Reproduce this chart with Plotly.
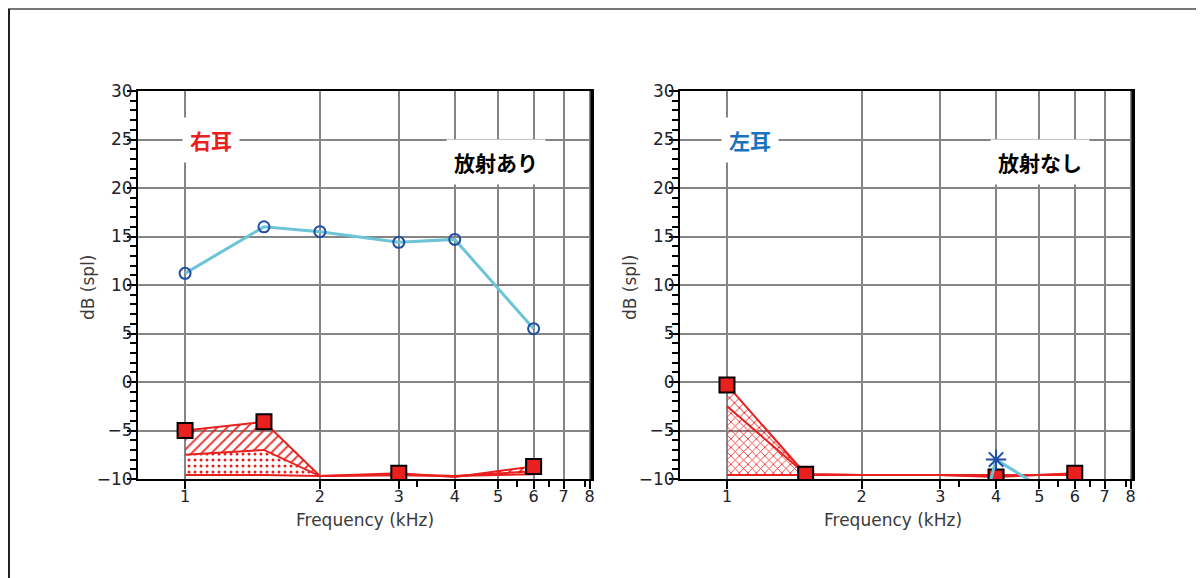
import math
import plotly.graph_objects as go

# ---------------- data ----------------
freq = [1, 1.5, 2, 3, 4, 6]
x_ticks = [1, 2, 3, 4, 5, 6, 7, 8]
x_minor = [3.3, 5.5, 6.5, 7.8]
y_ticks = [-10, -5, 0, 5, 10, 15, 20, 25, 30]

# right ear (右耳)
R_dp = [11.2, 16.0, 15.5, 14.4, 14.7, 5.5]
R_nf = [-5.0, -4.1, -9.7, -9.4, -9.8, -8.7]
R_mid = [-7.5, -7.0, -9.7, -9.6, -9.7, -9.2]
R_low = [-9.6, -9.6, -9.7, -9.6, -9.7, -9.5]
R_sq_show = [1, 1, 0, 1, 0, 1]

# left ear (左耳)
L_dp = [None, None, None, -30.0, -8.0, -13.0]
L_nf = [-0.3, -9.5, -9.6, -9.6, -9.8, -9.4]
L_mid = [-2.5, -9.5, -9.6, -9.6, -9.7, -9.5]
L_low = [-9.6, -9.6, -9.6, -9.6, -9.6, -9.6]
L_sq_show = [1, 1, 0, 0, 1, 1]
L_star_show = [0, 0, 0, 0, 1, 0]

titles = ["右耳", "左耳"]
notes = ["放射あり", "放射なし"]

# ---------------- styling ----------------
OFF = 8                     # page offset of the figure inside the browser
W, H = 1204 - OFF, 578 - OFF
RED = "#e8211f"
CYAN = "#6cc4d6"
BLUE = "#1f4ea3"
GRID = "#858585"
TXT = "#22222c"


def px_x(p):
    return (p - OFF) / W


def px_y(p):
    return (H - (p - OFF)) / H


fig = go.Figure()

panels = [
    dict(xa="x", ya="y", dom=[px_x(138), px_x(592)],
         dp=R_dp, nf=R_nf, mid=R_mid, low=R_low, sq=R_sq_show,
         p1=".", p2="/", dp_marker="circle-open", dp_show=[1] * 6,
         title_col="#e8211f", tx=211, nx=496, lab_x=365, ylab_x=88),
    dict(xa="x2", ya="y2", dom=[px_x(680), px_x(1133)],
         dp=L_dp, nf=L_nf, mid=L_mid, low=L_low, sq=L_sq_show,
         p1="x", p2="x", dp_marker="asterisk-open", dp_show=L_star_show,
         title_col="#1a74bd", tx=750, nx=1040, lab_x=893, ylab_x=630),
]

for i, pnl in enumerate(panels):
    xa, ya = pnl["xa"], pnl["ya"]
    fig.add_trace(go.Scatter(x=freq, y=pnl["low"], mode="lines", xaxis=xa, yaxis=ya,
                             line=dict(color=RED, width=2), showlegend=False, hoverinfo="skip"))
    fig.add_trace(go.Scatter(x=freq, y=pnl["mid"], mode="lines", xaxis=xa, yaxis=ya,
                             line=dict(color=RED, width=2), fill="tonexty",
                             fillcolor="rgba(255,255,255,0)",
                             fillpattern=dict(shape=pnl["p1"], fgcolor=RED, bgcolor="rgba(255,255,255,0)",
                                              fgopacity=1, size=6, solidity=0.2 if i == 0 else 0.25),
                             showlegend=False, hoverinfo="skip"))
    fig.add_trace(go.Scatter(x=freq, y=pnl["nf"], mode="lines", xaxis=xa, yaxis=ya,
                             line=dict(color=RED, width=2), fill="tonexty",
                             fillcolor="rgba(255,255,255,0)",
                             fillpattern=dict(shape=pnl["p2"], fgcolor=RED, bgcolor="rgba(255,255,255,0)",
                                              fgopacity=1, size=7, solidity=0.25),
                             showlegend=False, hoverinfo="skip"))
    fig.add_trace(go.Scatter(x=freq, y=pnl["nf"], mode="markers", xaxis=xa, yaxis=ya,
                             marker=dict(symbol="square", color=RED, opacity=1,
                                         size=[15 * s for s in pnl["sq"]],
                                         line=dict(color="black", width=2)),
                             showlegend=False, hoverinfo="skip"))
    fig.add_trace(go.Scatter(x=freq, y=pnl["dp"], mode="lines", xaxis=xa, yaxis=ya,
                             line=dict(color=CYAN, width=3), connectgaps=False,
                             showlegend=False, hoverinfo="skip"))
    fig.add_trace(go.Scatter(x=freq, y=pnl["dp"], mode="markers", xaxis=xa, yaxis=ya,
                             marker=dict(symbol=pnl["dp_marker"], color=BLUE, opacity=1,
                                         size=[(11 if i == 0 else 17) * s for s in pnl["dp_show"]],
                                         line=dict(color=BLUE, width=2)),
                             showlegend=False, hoverinfo="skip"))

xr = [math.log10(0.785), math.log10(8.1)]
axis_common_x = dict(type="log", range=xr, tickmode="array", tickvals=x_ticks,
                     ticktext=[str(v) for v in x_ticks], showgrid=True, gridcolor=GRID,
                     gridwidth=2, showline=True, linecolor="black", linewidth=2, mirror=True,
                     ticks="outside", ticklen=8, tickwidth=2, tickcolor="black",
                     ticklabelstandoff=-6,
                     tickfont=dict(family="DejaVu Sans", size=16, color=TXT),
                     minor=dict(tickmode="array", tickvals=x_minor, ticks="outside",
                                ticklen=6, tickwidth=2, tickcolor="black", showgrid=False),
                     zeroline=False, fixedrange=True, automargin=False)
axis_common_y = dict(range=[-10, 30], tickmode="array", tickvals=y_ticks,
                     showgrid=True, gridcolor=GRID, gridwidth=2, showline=True,
                     linecolor="black", linewidth=2, mirror=True,
                     ticks="outside", ticklen=9, tickwidth=2, tickcolor="black",
                     ticklabelstandoff=-9,
                     tickfont=dict(family="DejaVu Sans", size=17, color=TXT),
                     minor=dict(dtick=1, tick0=0, ticks="outside", ticklen=6, tickwidth=2,
                                tickcolor="black", showgrid=False),
                     zeroline=False, fixedrange=True, automargin=False,
                     domain=[px_y(479), px_y(91)])

fig.update_layout(
    width=W, height=H,
    margin=dict(l=0, r=0, t=0, b=0, pad=0),
    paper_bgcolor="white", plot_bgcolor="white",
    xaxis=dict(axis_common_x, domain=panels[0]["dom"], anchor="y"),
    yaxis=dict(axis_common_y, anchor="x"),
    xaxis2=dict(axis_common_x, domain=panels[1]["dom"], anchor="y2"),
    yaxis2=dict(axis_common_y, anchor="x2"),
)

annotations = []
for i, pnl in enumerate(panels):
    annotations.append(dict(xref="paper", yref="paper", x=px_x(pnl["tx"]), y=px_y(140),
                            xanchor="center", yanchor="middle",
                            text=f"<b>{titles[i]}</b>", showarrow=False,
                            font=dict(family="Noto Sans CJK JP", size=21, color=pnl["title_col"]),
                            bgcolor="white", borderpad=7))
    annotations.append(dict(xref="paper", yref="paper", x=px_x(pnl["nx"]), y=px_y(162),
                            xanchor="center", yanchor="middle",
                            text=f"<b>{notes[i]}</b>", showarrow=False,
                            font=dict(family="Noto Sans CJK JP", size=21, color="black"),
                            bgcolor="white", borderpad=7))
    annotations.append(dict(xref="paper", yref="paper", x=px_x(pnl["lab_x"]), y=px_y(520),
                            xanchor="center", yanchor="middle",
                            text="Frequency (kHz)", showarrow=False,
                            font=dict(family="DejaVu Sans", size=17, color="#3a3a3a")))
    annotations.append(dict(xref="paper", yref="paper", x=px_x(pnl["ylab_x"]), y=px_y(287),
                            xanchor="center", yanchor="middle",
                            text="dB (spl)", showarrow=False, textangle=-90,
                            font=dict(family="DejaVu Sans", size=17, color="#3a3a3a")))
fig.update_layout(annotations=annotations)

fig.add_shape(type="line", xref="paper", yref="paper", x0=0, x1=1, y0=px_y(9), y1=px_y(9),
              line=dict(color="#777777", width=2))
fig.add_shape(type="line", xref="paper", yref="paper", x0=px_x(9), x1=px_x(9), y0=px_y(9), y1=0,
              line=dict(color="#222222", width=2))
for pnl in panels:
    fig.add_shape(type="line", xref="paper", yref="paper", x0=pnl["dom"][1], x1=pnl["dom"][1],
                  y0=px_y(479), y1=px_y(91), line=dict(color="black", width=3))

fig.write_html("out.html")
